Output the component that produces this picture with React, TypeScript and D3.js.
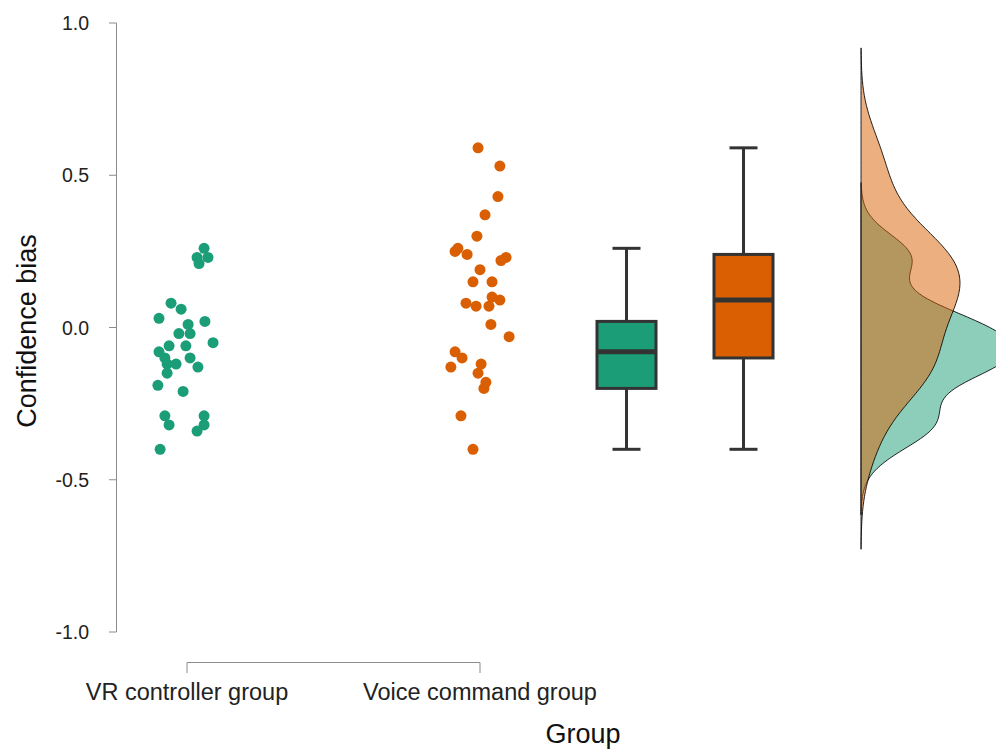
import React from 'react';
import * as d3 from 'd3';

// categories and colours
const groups = ['VR controller group', 'Voice command group'];
const colors = ['#1b9e77', '#d95f02'];

// raw scores (value, jitter in -1..1)
const vrValues = [0.26, 0.23, 0.23, 0.21, 0.08, 0.06, 0.03, 0.01, 0.02, -0.02, -0.02, -0.05, -0.06, -0.06, -0.08,
  -0.10, -0.10, -0.12, -0.12, -0.13, -0.15, -0.19, -0.21, -0.29, -0.32, -0.29, -0.32, -0.34, -0.40];
const vrJitter = [0.61, 0.36, 0.75, 0.43, -0.57, -0.21, -1.0, 0.04, 0.64, -0.29, 0.11, 0.93, -0.64, -0.04, -1.0,
  -0.79, 0.11, -0.39, -0.71, 0.39, -0.71, -1.04, -0.14, -0.79, -0.64, 0.61, 0.61, 0.36, -0.96];

const voiceValues = [0.59, 0.53, 0.43, 0.37, 0.30, 0.25, 0.26, 0.24, 0.23, 0.22, 0.19, 0.15, 0.15, 0.10, 0.09,
  0.08, 0.07, 0.07, 0.01, -0.03, -0.08, -0.10, -0.13, -0.12, -0.15, -0.18, -0.20, -0.29, -0.40];
const voiceJitter = [-0.07, 0.71, 0.64, 0.18, -0.11, -0.89, -0.79, -0.46, 0.93, 0.75, 0.0, -0.25, 0.43, 0.43, 0.71,
  -0.5, -0.14, 0.32, 0.39, 1.04, -0.89, -0.64, -1.04, 0.04, -0.07, 0.21, 0.14, -0.68, -0.25];

// box stats: [lower whisker, q1, median, q3, upper whisker]
const vrBox = [-0.40, -0.20, -0.08, 0.02, 0.26];
const voiceBox = [-0.40, -0.10, 0.09, 0.24, 0.59];

const yTicks = [-1.0, -0.5, 0.0, 0.5, 1.0];
const yTickLabels = ['-1.0', '-0.5', '0.0', '0.5', '1.0'];

const FONT = "'Liberation Sans', Arial, sans-serif";

// gaussian kde, bw.nrd0 style, cut = 3
function kde(values: number[]) {
  const sorted = values.slice().sort(d3.ascending);
  const sd = d3.deviation(sorted) as number;
  const iqr = (d3.quantile(sorted, 0.75) as number) - (d3.quantile(sorted, 0.25) as number);
  const bw = 0.9 * Math.min(sd, iqr / 1.34) * Math.pow(sorted.length, -0.2);
  const lo = sorted[0] - 3 * bw;
  const hi = sorted[sorted.length - 1] + 3 * bw;
  const n = 200;
  const pts: [number, number][] = [];
  for (let i = 0; i <= n; i++) {
    const v = lo + ((hi - lo) * i) / n;
    let s = 0;
    for (const x of sorted) {
      const u = (v - x) / bw;
      s += Math.exp(-0.5 * u * u);
    }
    pts.push([v, s / (sorted.length * bw * Math.sqrt(2 * Math.PI))]);
  }
  return pts;
}

export default function App() {
  const width = 996;
  const height = 751;

  const y = d3.scaleLinear().domain([-1, 1]).range([632, 23]);
  const xCat = d3.scalePoint<string>().domain(groups).range([187, 480]);
  const jit = d3.scaleLinear().domain([-1, 1]).range([-28, 28]);
  const xBox = d3.scalePoint<string>().domain(groups).range([626.5, 743.5]);

  const boxW = 59;
  const capW = 28;

  const densities = [kde(vrValues), kde(voiceValues)];
  const voiceMax = d3.max(densities[1], (d) => d[1]) as number;
  const base = 861;
  const dens = d3.scaleLinear().domain([0, voiceMax]).range([0, 99]);

  const area = d3
    .area<[number, number]>()
    .y((d) => y(d[0]))
    .x0(base)
    .x1((d) => base + dens(d[1]))
    .curve(d3.curveBasis);

  const pointSets = [
    { vals: vrValues, jit: vrJitter },
    { vals: voiceValues, jit: voiceJitter },
  ];
  const boxes = [vrBox, voiceBox];

  return (
    <svg
      width={width}
      height={height}
      style={{ position: 'absolute', left: 0, top: 0, display: 'block', background: '#fff' }}
      fontFamily={FONT}
    >
      {/* y axis */}
      <line x1={116.5} x2={116.5} y1={y(-1)} y2={y(1)} stroke="#8c8c8c" strokeWidth={1} />
      {yTicks.map((t, i) => (
        <g key={t}>
          <line x1={109} x2={116.5} y1={y(t)} y2={y(t)} stroke="#8c8c8c" strokeWidth={1} />
          <text x={89} y={y(t)} dy="0.36em" textAnchor="end" fontSize={19.5} fill="#222">
            {yTickLabels[i]}
          </text>
        </g>
      ))}
      <text
        transform={`translate(36, 331) rotate(-90)`}
        textAnchor="middle"
        fontSize={27}
        fill="#111"
      >
        Confidence bias
      </text>

      {/* x axis bracket */}
      <path
        d={`M${xCat(groups[0])},673V662.5H${xCat(groups[1])}V673`}
        fill="none"
        stroke="#8c8c8c"
        strokeWidth={1}
      />
      {groups.map((g) => (
        <text key={g} x={xCat(g)} y={700} textAnchor="middle" fontSize={23.5} fill="#222">
          {g}
        </text>
      ))}
      <text x={583} y={743} textAnchor="middle" fontSize={27} fill="#111">
        Group
      </text>

      {/* jittered points */}
      {pointSets.map((s, gi) =>
        s.vals.map((v, i) => (
          <circle
            key={`${gi}-${i}`}
            cx={(xCat(groups[gi]) as number) + jit(s.jit[i])}
            cy={y(v)}
            r={5.5}
            fill={colors[gi]}
          />
        ))
      )}

      {/* box plots */}
      {boxes.map((b, gi) => {
        const cx = xBox(groups[gi]) as number;
        return (
          <g key={gi} stroke="#333" fill="none">
            <line x1={cx} x2={cx} y1={y(b[0])} y2={y(b[1])} strokeWidth={3} />
            <line x1={cx} x2={cx} y1={y(b[3])} y2={y(b[4])} strokeWidth={3} />
            <line x1={cx - capW / 2} x2={cx + capW / 2} y1={y(b[0])} y2={y(b[0])} strokeWidth={3} />
            <line x1={cx - capW / 2} x2={cx + capW / 2} y1={y(b[4])} y2={y(b[4])} strokeWidth={3} />
            <rect
              x={cx - boxW / 2}
              y={y(b[3])}
              width={boxW}
              height={y(b[1]) - y(b[3])}
              fill={colors[gi]}
              strokeWidth={3}
            />
            <line x1={cx - boxW / 2} x2={cx + boxW / 2} y1={y(b[2])} y2={y(b[2])} strokeWidth={5} />
          </g>
        );
      })}

      {/* half violins */}
      {densities.map((d, gi) => (
        <path
          key={gi}
          d={area(d) as string}
          fill={colors[gi]}
          fillOpacity={0.5}
          stroke="#000"
          strokeOpacity={0.85}
          strokeWidth={1}
        />
      ))}
    </svg>
  );
}
